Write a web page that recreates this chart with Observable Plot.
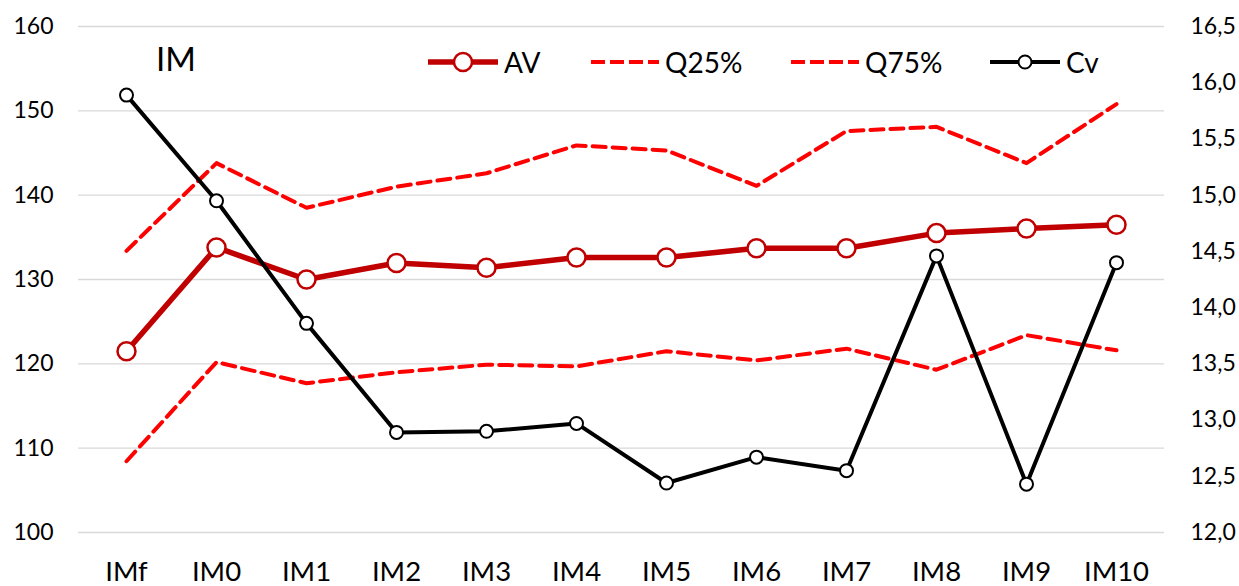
<!DOCTYPE html>
<html>
<head>
<meta charset="utf-8">
<script src="https://cdn.jsdelivr.net/npm/d3@7"></script>
<script src="https://cdn.jsdelivr.net/npm/@observablehq/plot@0.6"></script>
<style>
  html, body { margin: 0; padding: 0; background: #fff; }
  #wrap { position: relative; width: 1239px; height: 586px; overflow: hidden; font-family: Lato, sans-serif; }
  #title { position: absolute; left: 156px; top: 42px; font-size: 33px; line-height: 33px; color: #000; }
  .leg { position: absolute; top: 48px; height: 28px; display: flex; align-items: center; font-size: 28px; line-height: 28px; color: #000; white-space: nowrap; }
  .leg svg { margin-right: 6px; }
</style>
</head>
<body>
<div id="wrap">
  <div id="chart"></div>
  <div id="title">IM</div>
</div>
<script>
const categories = ["IMf","IM0","IM1","IM2","IM3","IM4","IM5","IM6","IM7","IM8","IM9","IM10"];
const av  = [121.5, 133.8, 130.0, 131.95, 131.4, 132.6, 132.6, 133.7, 133.7, 135.5, 136.05, 136.5];
const q25 = [108.45, 120.2, 117.7, 119.0, 119.9, 119.7, 121.5, 120.4, 121.8, 119.3, 123.4, 121.6];
const q75 = [133.4, 143.8, 138.5, 141.0, 142.6, 145.9, 145.3, 141.1, 147.6, 148.1, 143.8, 150.8];
const cv  = [15.89, 14.95, 13.86, 12.89, 12.90, 12.97, 12.44, 12.67, 12.55, 14.46, 12.43, 14.40];
const leftTicks  = [100, 110, 120, 130, 140, 150, 160];
const rightTicks = [12.0, 12.5, 13.0, 13.5, 14.0, 14.5, 15.0, 15.5, 16.0, 16.5];
const seriesNames = ["AV", "Q25%", "Q75%", "Cv"];

// secondary axis mapping: right domain [12, 16.5] onto left domain [100, 160]
const toLeft = r => 100 + (r - 12) * 60 / 4.5;
const fromLeft = v => 12 + (v - 100) * 4.5 / 60;

const rows = categories.map((c, i) => ({cat: c, av: av[i], q25: q25[i], q75: q75[i], cv: toLeft(cv[i])}));

const RED_DARK = "#c00000", RED = "#ff0000";

const chart = Plot.plot({
  width: 1239, height: 586,
  marginLeft: 78, marginRight: 75, marginTop: 26, marginBottom: 54,
  x: {type: "point", domain: categories, padding: 0.5},
  y: {domain: [100, 160]},
  style: {fontFamily: "Lato, sans-serif", fontSize: "23px", color: "#000", background: "#fff"},
  marks: [
    Plot.gridY(leftTicks, {stroke: "#d9d9d9", strokeOpacity: 1, strokeWidth: 1.3}),
    Plot.axisY(leftTicks, {anchor: "left", tickSize: 0, tickPadding: 25, label: null, fill: "#000"}),
    Plot.axisY(rightTicks.map(toLeft), {anchor: "right", tickSize: 0, tickPadding: 26, label: null, fill: "#000",
      tickFormat: v => fromLeft(v).toFixed(1).replace(".", ",")}),
    Plot.axisX({tickSize: 0, tickPadding: 29, fontSize: 27.5, label: null, fill: "#000"}),
    Plot.line(rows, {x: "cat", y: "q75", stroke: RED, strokeWidth: 4, strokeDasharray: "13,7"}),
    Plot.line(rows, {x: "cat", y: "q25", stroke: RED, strokeWidth: 4, strokeDasharray: "13,7"}),
    Plot.line(rows, {x: "cat", y: "av", stroke: RED_DARK, strokeWidth: 5.5}),
    Plot.dot(rows, {x: "cat", y: "av", r: 9, fill: "#fff", stroke: RED_DARK, strokeWidth: 2.5}),
    Plot.line(rows, {x: "cat", y: "cv", stroke: "#000", strokeWidth: 4}),
    Plot.dot(rows, {x: "cat", y: "cv", r: 6.5, fill: "#fff", stroke: "#000", strokeWidth: 2})
  ]
});
document.getElementById("chart").appendChild(chart);

// legend (inside plot area, as in the reference)
const legendLeft = [428, 591, 791, 990];
const swatch = {
  "AV":   `<svg width="70" height="24"><line x1="0" x2="70" y1="12" y2="12" stroke="${RED_DARK}" stroke-width="5.5"/><circle cx="35" cy="12" r="9" fill="#fff" stroke="${RED_DARK}" stroke-width="2.5"/></svg>`,
  "Q25%": `<svg width="68" height="24"><line x1="0" x2="68" y1="12" y2="12" stroke="${RED}" stroke-width="4" stroke-dasharray="14,5"/></svg>`,
  "Q75%": `<svg width="68" height="24"><line x1="0" x2="68" y1="12" y2="12" stroke="${RED}" stroke-width="4" stroke-dasharray="14,5"/></svg>`,
  "Cv":   `<svg width="70" height="24"><line x1="0" x2="70" y1="12" y2="12" stroke="#000" stroke-width="4"/><circle cx="35" cy="12" r="6.5" fill="#fff" stroke="#000" stroke-width="2"/></svg>`
};
const wrap = document.getElementById("wrap");
seriesNames.forEach((name, i) => {
  const d = document.createElement("div");
  d.className = "leg";
  d.style.left = legendLeft[i] + "px";
  d.innerHTML = swatch[name] + `<span>${name}</span>`;
  wrap.appendChild(d);
});
</script>
</body>
</html>
